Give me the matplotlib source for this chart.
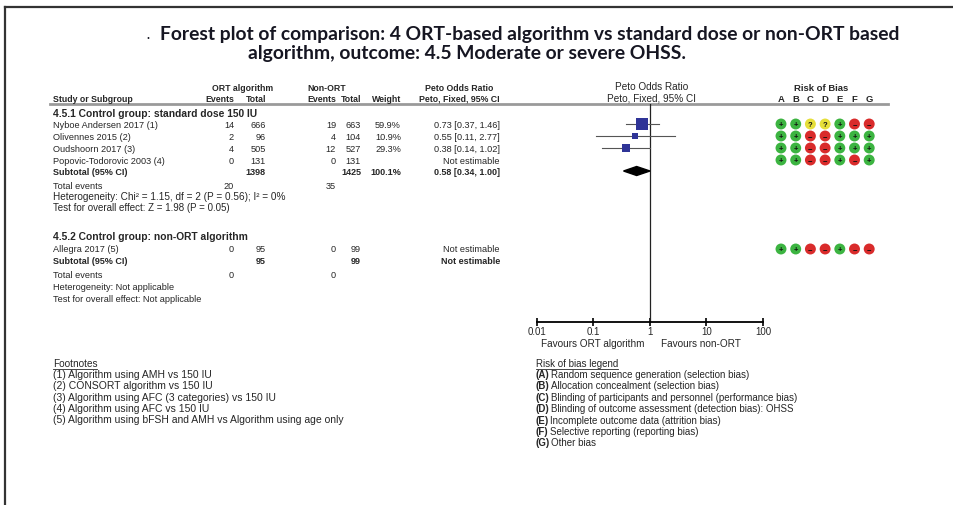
import numpy as np
import matplotlib
matplotlib.use('Agg')
from matplotlib import pyplot as plt

# study level data, group 4.5.1
studies = ['Nyboe Andersen 2017 (1)', 'Olivennes 2015 (2)',
           'Oudshoorn 2017 (3)', 'Popovic-Todorovic 2003 (4)']
ort_events = [14, 2, 4, 0]
ort_total = [666, 96, 505, 131]
non_events = [19, 4, 12, 0]
non_total = [663, 104, 527, 131]
weights = [59.9, 10.9, 29.3, None]
peto_or = [0.73, 0.55, 0.38, None]
ci_low = [0.37, 0.11, 0.14, None]
ci_high = [1.46, 2.77, 1.02, None]
bias = [['+', '+', '?', '?', '+', '-', '-'],
        ['+', '+', '-', '-', '+', '+', '+'],
        ['+', '+', '-', '-', '+', '+', '+'],
        ['+', '+', '-', '-', '+', '-', '+']]

sub_ort_total, sub_non_total = 1398, 1425
sub_or, sub_low, sub_high = 0.58, 0.34, 1.00
tot_ort_events, tot_non_events = 20, 35

# group 4.5.2
studies2 = ['Allegra 2017 (5)']
ort_events2 = [0]
ort_total2 = [95]
non_events2 = [0]
non_total2 = [99]
bias2 = [['+', '+', '-', '-', '+', '-', '-']]

or_ticks = [0.01, 0.1, 1, 10, 100]
bias_cols = ['A', 'B', 'C', 'D', 'E', 'F', 'G']

footnotes = ['(1) Algorithm using AMH vs 150 IU',
             '(2) CONSORT algorithm vs 150 IU',
             '(3) Algorithm using AFC (3 categories) vs 150 IU',
             '(4) Algorithm using AFC vs 150 IU',
             '(5) Algorithm using bFSH and AMH vs Algorithm using age only']
bias_legend = [('A', 'Random sequence generation (selection bias)'),
               ('B', 'Allocation concealment (selection bias)'),
               ('C', 'Blinding of participants and personnel (performance bias)'),
               ('D', 'Blinding of outcome assessment (detection bias): OHSS'),
               ('E', 'Incomplete outcome data (attrition bias)'),
               ('F', 'Selective reporting (reporting bias)'),
               ('G', 'Other bias')]

plt.rcParams['font.family'] = ['Liberation Sans', 'DejaVu Sans']
TXT = '#262626'
FS = 6.6
HFS = 6.3
W, H = 954, 506

fig = plt.figure(figsize=(W / 100, H / 100), dpi=100)
ax = fig.add_axes([0, 0, 1, 1])
ax.set_xlim(0, W)
ax.set_ylim(H, 0)
ax.axis('off')

# frame
ax.plot([5, W], [8, 8], color='#333333', lw=1.6)
ax.plot([5, 5], [8, H], color='#333333', lw=1.6)

# title
tkw = dict(family=['Lato', 'DejaVu Sans'], fontweight='bold',
           color='#161622', va='center', ha='left')
ax.text(146, 35, '.', fontsize=9, **tkw)
ax.text(160, 34, 'Forest plot of comparison: 4 ORT-based algorithm vs standard dose or non-ORT based',
        fontsize=13.9, **tkw)
ax.text(248, 53, 'algorithm, outcome: 4.5 Moderate or severe OHSS.', fontsize=13.9, **tkw)


def t(x, y, s, ha='left', bold=False, size=None, **kw):
    return ax.text(x, y, s, ha=ha, va='center', fontsize=size or FS, color=TXT,
                   fontweight='bold' if bold else 'normal', **kw)


def h(x, y, s, ha='left', size=HFS):
    return t(x, y, s, ha=ha, bold=True, size=size)


# column positions (right edges)
X_NAME, X_OE, X_OT, X_NE, X_NT, X_W, X_CI = 53, 234, 266, 336, 361, 401, 500

# headers
h(243, 88, 'ORT algorithm', ha='center')
h(327, 88, 'Non-ORT', ha='center')
h(459, 88, 'Peto Odds Ratio', ha='center')
t(652, 87, 'Peto Odds Ratio', ha='center', size=7.2)
h(821, 88, 'Risk of Bias', ha='center', size=6.8)
h(X_NAME, 99, 'Study or Subgroup')
h(X_OE, 99, 'Events', ha='right')
h(X_OT, 99, 'Total', ha='right')
h(X_NE, 99, 'Events', ha='right')
h(X_NT, 99, 'Total', ha='right')
h(X_W, 99, 'Weight', ha='right')
h(X_CI, 99, 'Peto, Fixed, 95% CI', ha='right')
t(652, 98, 'Peto, Fixed, 95% CI', ha='center', size=7.2)
bias_x = [781 + 14.7 * i for i in range(len(bias_cols))]
for bx, c in zip(bias_x, bias_cols):
    h(bx, 99, c, ha='center', size=6.8)
ax.plot([50, 888], [105, 105], color='#9a9a9a', lw=2)

# group 4.5.1 rows
h(X_NAME, 114, '4.5.1 Control group: standard dose 150 IU', size=7.4)
row_y = [125, 137, 149, 161]
for i, y in enumerate(row_y):
    t(X_NAME, y, studies[i])
    t(X_OE, y, str(ort_events[i]), ha='right')
    t(X_OT, y, str(ort_total[i]), ha='right')
    t(X_NE, y, str(non_events[i]), ha='right')
    t(X_NT, y, str(non_total[i]), ha='right')
    if weights[i] is None:
        t(X_CI, y, 'Not estimable', ha='right')
    else:
        t(X_W, y, f'{weights[i]:.1f}%', ha='right')
        t(X_CI, y, f'{peto_or[i]:.2f} [{ci_low[i]:.2f}, {ci_high[i]:.2f}]', ha='right')
y_sub = 172
h(X_NAME, y_sub, 'Subtotal (95% CI)', size=6.5)
h(X_OT, y_sub, str(sub_ort_total), ha='right', size=6.5)
h(X_NT, y_sub, str(sub_non_total), ha='right', size=6.5)
h(X_W, y_sub, f'{sum(w for w in weights if w):.1f}%', ha='right', size=6.5)
h(X_CI, y_sub, f'{sub_or:.2f} [{sub_low:.2f}, {sub_high:.2f}]', ha='right', size=6.5)
t(X_NAME, 186, 'Total events')
t(X_OE, 186, str(tot_ort_events), ha='right')
t(X_NE, 186, str(tot_non_events), ha='right')
t(X_NAME, 197, 'Heterogeneity: Chi\u00b2 = 1.15, df = 2 (P = 0.56); I\u00b2 = 0%', size=7.2)
t(X_NAME, 208, 'Test for overall effect: Z = 1.98 (P = 0.05)', size=7.0)

# group 4.5.2 rows
h(X_NAME, 237, '4.5.2 Control group: non-ORT algorithm', size=7.4)
row_y2 = [250]
for i, y in enumerate(row_y2):
    t(X_NAME, y, studies2[i])
    t(X_OE, y, str(ort_events2[i]), ha='right')
    t(X_OT, y, str(ort_total2[i]), ha='right')
    t(X_NE, y, str(non_events2[i]), ha='right')
    t(X_NT, y, str(non_total2[i]), ha='right')
    t(X_CI, y, 'Not estimable', ha='right')
h(X_NAME, 261, 'Subtotal (95% CI)', size=6.5)
h(X_OT, 261, str(sum(ort_total2)), ha='right', size=6.5)
h(X_NT, 261, str(sum(non_total2)), ha='right', size=6.5)
h(X_CI, 261, 'Not estimable', ha='right', size=6.5)
t(X_NAME, 275, 'Total events')
t(X_OE, 275, str(sum(ort_events2)), ha='right')
t(X_NE, 275, str(sum(non_events2)), ha='right')
t(X_NAME, 288, 'Heterogeneity: Not applicable')
t(X_NAME, 299, 'Test for overall effect: Not applicable')

# risk of bias dots
bias_color = {'+': '#3cb441', '-': '#d92b2b', '?': '#e6df3a'}
bias_mark = {'+': '+', '-': '\u2212', '?': '?'}
for rows, ys in ((bias, row_y), (bias2, row_y2)):
    for judg, y in zip(rows, ys):
        for bx, j in zip(bias_x, judg):
            ax.scatter(bx, y, s=62, color=bias_color[j], edgecolors='none', zorder=3)
            ax.text(bx, y + 0.3, bias_mark[j], ha='center', va='center', fontsize=5.5,
                    fontweight='bold', color='#111111', zorder=4)

# forest panel
fx0, fx1, fy0, fy1 = 537, 763, 105, 323
fax = fig.add_axes([fx0 / W, 1 - fy1 / H, (fx1 - fx0) / W, (fy1 - fy0) / H])
fax.set_xscale('log')
fax.set_xlim(or_ticks[0], or_ticks[-1])
fax.set_ylim(fy1, fy0)
fax.patch.set_alpha(0)
for s in ('top', 'left', 'right'):
    fax.spines[s].set_visible(False)
fax.spines['bottom'].set_linewidth(1.3)
fax.set_yticks([])
fax.set_xticks(or_ticks)
fax.set_xticklabels(['0.01', '0.1', '1', '10', '100'])
fax.xaxis.set_minor_locator(matplotlib.ticker.NullLocator())
fax.tick_params(axis='x', direction='inout', length=6, width=1.2, labelsize=7,
                labelcolor=TXT, pad=0)
fax.axvline(1, color='#222222', lw=0.9)

max_w = max(w for w in weights if w)
for i, y in enumerate(row_y):
    if peto_or[i] is None:
        continue
    fax.plot([ci_low[i], ci_high[i]], [y, y], color='#555555', lw=0.8)
    side = 8.6 * np.sqrt(weights[i] / max_w)
    fax.plot(peto_or[i], y, marker='s', markersize=side, color='#2f3497',
             markeredgewidth=0, zorder=3)
dx = [sub_low, sub_or, sub_high, sub_or]
dy = [y_sub, y_sub - 4.5, y_sub, y_sub + 4.5]
fax.fill(dx, dy, color='black', zorder=3)

t(593, 344, 'Favours ORT algorithm', ha='center', size=7.2)
t(701, 344, 'Favours non-ORT', ha='center', size=7.2)

# footnotes and bias legend
fig.canvas.draw()
rend = fig.canvas.get_renderer()
inv = ax.transData.inverted()


def underline(txt):
    bb = txt.get_window_extent(rend)
    (x0, y0), (x1, _) = inv.transform([[bb.x0, bb.y0], [bb.x1, bb.y1]])
    ax.plot([x0, x1], [y0 + 0.5, y0 + 0.5], color=TXT, lw=0.6)


underline(t(53, 364, 'Footnotes', size=7.2))
for k, line in enumerate(footnotes):
    t(53, 375 + 11.3 * k, line, size=7.5)

underline(t(536, 364, 'Risk of bias legend', size=7.0))
for k, (letter, desc) in enumerate(bias_legend):
    y = 375 + 11.4 * k
    head = t(536, y, f'({letter})', bold=True, size=7.0)
    bb = head.get_window_extent(rend)
    xr = inv.transform([[bb.x1, bb.y0]])[0][0]
    t(xr + 1, y, desc, size=7.0)

fig.savefig('out.png', dpi=100)
